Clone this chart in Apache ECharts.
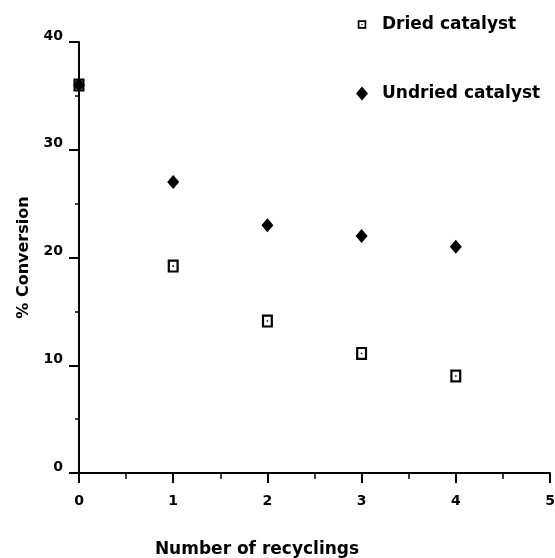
<!DOCTYPE html>
<html>
<head>
<meta charset="utf-8">
<script src="https://cdn.jsdelivr.net/npm/echarts@6/dist/echarts.min.js"></script>
<style>
  html, body { margin: 0; padding: 0; background: #fff; }
  #chart { width: 555px; height: 558px; }
</style>
</head>
<body>
<div id="chart"></div>
<script>
// data
const recyclings = [0, 1, 2, 3, 4];
const driedValues = [36, 19.2, 14.1, 11.1, 9];
const undriedValues = [36, 27, 23, 22, 21];
const seriesNames = ['Dried catalyst', 'Undried catalyst'];

// hollow square with a dot in the middle
const squareDot = 'path://M0,0H10V12H0Z M2,2V10H8V2Z M4.3,5.3H5.7V6.7H4.3Z';
// same for the legend, with tiny corner specks so the icon draws a bit smaller
const squareDotLegend = 'path://M-2,-2h0.01v0.01h-0.01Z M12,12h0.01v0.01h-0.01Z M0,0H10V10H0Z M2,2V8H8V2Z M4.3,4.3H5.7V5.7H4.3Z';
const font = 'DejaVu Sans';

const myChart = echarts.init(document.getElementById('chart'));

const toPairs = (xs, ys) => xs.map((x, i) => [x, ys[i]]);

const option = {
  animation: false,
  backgroundColor: '#fff',
  grid: { left: 79, right: 5, top: 42, bottom: 85, outerBoundsMode: 'none', containLabel: false },
  legend: {
    orient: 'vertical',
    left: 351,
    top: 11,
    itemGap: 52,
    itemWidth: 12,
    itemHeight: 14,
    textStyle: { fontFamily: font, fontWeight: 'bold', fontSize: 17, color: '#000', padding: [0, 0, 0, 9] },
    data: [
      { name: seriesNames[0], icon: squareDotLegend, itemStyle: { color: '#000', opacity: 1 } },
      { name: seriesNames[1], icon: 'diamond', itemStyle: { color: '#000', opacity: 1 } }
    ]
  },
  xAxis: {
    type: 'value',
    min: 0, max: 5, interval: 1,
    name: 'Number of recyclings',
    nameLocation: 'middle',
    nameGap: 68,
    nameTextStyle: { fontFamily: font, fontWeight: 'bold', fontSize: 17, color: '#000', padding: [0, 115, 0, 0] },
    axisLine: { onZero: false, lineStyle: { color: '#000', width: 2 } },
    axisTick: { show: true, length: 10, lineStyle: { color: '#000', width: 2 } },
    minorTick: { show: true, splitNumber: 2, length: 6, lineStyle: { color: '#000', width: 1.5 } },
    axisLabel: { fontFamily: font, fontWeight: 'bold', fontSize: 14, color: '#000', margin: 21 },
    splitLine: { show: false }
  },
  yAxis: {
    type: 'value',
    min: 0, max: 40, interval: 10,
    name: '% Conversion',
    nameLocation: 'middle',
    nameGap: 47,
    nameTextStyle: { fontFamily: font, fontWeight: 'bold', fontSize: 16, color: '#000' },
    axisLine: { show: true, onZero: false, lineStyle: { color: '#000', width: 2 } },
    axisTick: { show: true, length: 10, lineStyle: { color: '#000', width: 2 } },
    minorTick: { show: true, splitNumber: 2, length: 4, lineStyle: { color: '#000', width: 1.5 } },
    axisLabel: { fontFamily: font, fontWeight: 'bold', fontSize: 14, color: '#000', margin: 16, verticalAlign: 'bottom', lineHeight: 12 },
    splitLine: { show: false }
  },
  series: [
    {
      name: seriesNames[0],
      type: 'scatter',
      symbol: squareDot,
      symbolSize: [11, 13],
      itemStyle: { color: '#000', opacity: 1 },
      emphasis: { disabled: true },
      data: toPairs(recyclings, driedValues)
    },
    {
      name: seriesNames[1],
      type: 'scatter',
      symbol: 'diamond',
      symbolSize: [12, 14],
      itemStyle: { color: '#000', opacity: 1 },
      emphasis: { disabled: true },
      data: toPairs(recyclings, undriedValues)
    }
  ]
};

option && myChart.setOption(option);
</script>
</body>
</html>
